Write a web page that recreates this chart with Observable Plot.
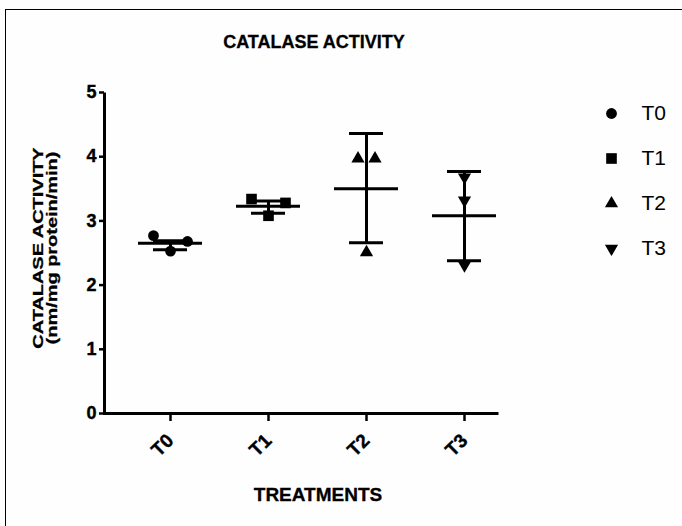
<!DOCTYPE html>
<html><head><meta charset="utf-8">
<script src="https://cdn.jsdelivr.net/npm/d3@7"></script>
<script src="https://cdn.jsdelivr.net/npm/@observablehq/plot@0.6"></script>
<style>
html,body{margin:0;padding:0;background:#fff;}
#wrap{position:relative;width:682px;height:526px;overflow:hidden;background:#fefefe;font-family:"Liberation Sans",Arial,sans-serif;color:#000;}
#border{position:absolute;left:5px;top:9px;width:720px;height:600px;border:1px solid #000;}
#chart{position:absolute;left:0;top:0;}
#chart svg text{stroke:#000;stroke-width:0.4px;}
#legend{position:absolute;left:595px;top:92px;}
.ttl{position:absolute;left:0;font-weight:bold;line-height:20px;white-space:nowrap;text-align:center;-webkit-text-stroke:0.3px #000;}
#ylab{position:absolute;left:44px;top:248px;transform:translate(-50%,-50%) rotate(-90deg) scaleX(1.33);font-weight:bold;font-size:15px;line-height:13.5px;text-align:center;white-space:nowrap;-webkit-text-stroke:0.3px #000;}
</style></head>
<body>
<div id="wrap">
  <div id="border"></div>
  <div id="chart"></div>
  <div id="legend"></div>
  <div class="ttl" style="top:32px;width:628px;font-size:18px;">CATALASE ACTIVITY</div>
  <div class="ttl" style="top:485px;width:636px;font-size:19px;">TREATMENTS</div>
  <div id="ylab">CATALASE ACTIVITY<br>(nm/mg protein/min)</div>
</div>
<script>
// ---- data ----
const categories = ["T0", "T1", "T2", "T3"];
const t0Values = [2.77, 2.53, 2.68];
const t1Values = [3.34, 3.08, 3.28];
const t2Values = [3.97, 3.97, 2.51];
const t3Values = [3.68, 3.32, 2.31];
const meanValues = [2.65, 3.23, 3.50, 3.08];
const errLow = [2.55, 3.12, 2.66, 2.38];
const errHigh = [2.69, 3.31, 4.36, 3.77];
const yTicks = [0, 1, 2, 3, 4, 5];

// ---- styling / layout (not data) ----
const spreadPx = {T0: [-17, 0, 17], T1: [-17, 0, 17], T2: [-8.5, 8.5, 0], T3: [0, 0, 0]};
const rBy = {T0: 5.4, T1: 6.0, T2: 4.9, T3: 4.9};
const triangleDown = {
  draw(ctx, size) {
    const y = -Math.sqrt(size / (Math.sqrt(3) * 3));
    ctx.moveTo(0, -y * 2);
    ctx.lineTo(-Math.sqrt(3) * y, y);
    ctx.lineTo(Math.sqrt(3) * y, y);
    ctx.closePath();
  }
};
const symbolRange = ["circle", "square", "triangle", triangleDown];

const valuesBy = {T0: t0Values, T1: t1Values, T2: t2Values, T3: t3Values};
const points = categories.flatMap(c => valuesBy[c].map((v, i) => ({cat: c, value: v, dx: spreadPx[c][i]})));
const summary = categories.map((c, i) => ({cat: c, mean: meanValues[i], low: errLow[i], high: errHigh[i]}));

const W = 682, H = 526, mT = 92, mB = 113, mL = 104, mR = 184;
const fw = W - mL - mR, fh = H - mT - mB;

const dotMarks = [];
for (const c of categories) {
  const offs = [...new Set(points.filter(p => p.cat === c).map(p => p.dx))];
  for (const o of offs) {
    dotMarks.push(Plot.dot(points.filter(p => p.cat === c && p.dx === o), {
      x: "cat", y: "value", symbol: "cat", r: rBy[c], fill: "black", stroke: "none", dx: o
    }));
  }
}

const chart = Plot.plot({
  width: W, height: H,
  marginTop: mT, marginBottom: mB, marginLeft: mL, marginRight: mR,
  x: {type: "point", domain: categories, padding: 0, insetLeft: 65, insetRight: 34},
  y: {domain: [0, 5]},
  symbol: {domain: categories, range: symbolRange},
  style: {fontFamily: "'Liberation Sans', Arial, sans-serif", fontSize: "18px", fontWeight: "bold", background: "transparent", color: "#000", overflow: "visible"},
  marks: [
    Plot.frame({stroke: "black", strokeWidth: 3, strokeDasharray: `0,${fw + fh},${fw + fh}`}),
    Plot.axisY({ticks: yTicks, tickSize: 5, tickPadding: 3, fontSize: 18, label: null, strokeWidth: 2.5, tickFormat: d3.format("d")}),
    Plot.axisX({tickRotate: -45, tickSize: 8, tickPadding: 16, fontSize: 19, label: null, strokeWidth: 2.5}),
    Plot.ruleX(summary, {x: "cat", y1: "low", y2: "high", stroke: "black", strokeWidth: 3}),
    Plot.ruleY(summary, {y: "low", x1: "cat", x2: "cat", insetLeft: -17, insetRight: -17, stroke: "black", strokeWidth: 3}),
    Plot.ruleY(summary, {y: "high", x1: "cat", x2: "cat", insetLeft: -17, insetRight: -17, stroke: "black", strokeWidth: 3}),
    Plot.ruleY(summary, {y: "mean", x1: "cat", x2: "cat", insetLeft: -32, insetRight: -32, stroke: "black", strokeWidth: 3}),
    ...dotMarks
  ]
});
document.getElementById("chart").appendChild(chart);

const legend = Plot.plot({
  width: 80, height: 180,
  marginTop: 21, marginBottom: 24, marginLeft: 16, marginRight: 0,
  y: {type: "point", domain: categories, padding: 0, axis: null},
  symbol: {domain: categories, range: symbolRange},
  style: {fontFamily: "'Liberation Sans', Arial, sans-serif", fontSize: "21px", background: "transparent", color: "#000", overflow: "visible"},
  marks: [
    ...categories.map(c => Plot.dot([c], {y: d => d, symbol: d => d, r: rBy[c], fill: "black", frameAnchor: "left"})),
    Plot.text(categories, {y: d => d, text: d => d, frameAnchor: "left", dx: 30, textAnchor: "start", fontSize: 21})
  ]
});
document.getElementById("legend").appendChild(legend);
</script>
</body></html>
